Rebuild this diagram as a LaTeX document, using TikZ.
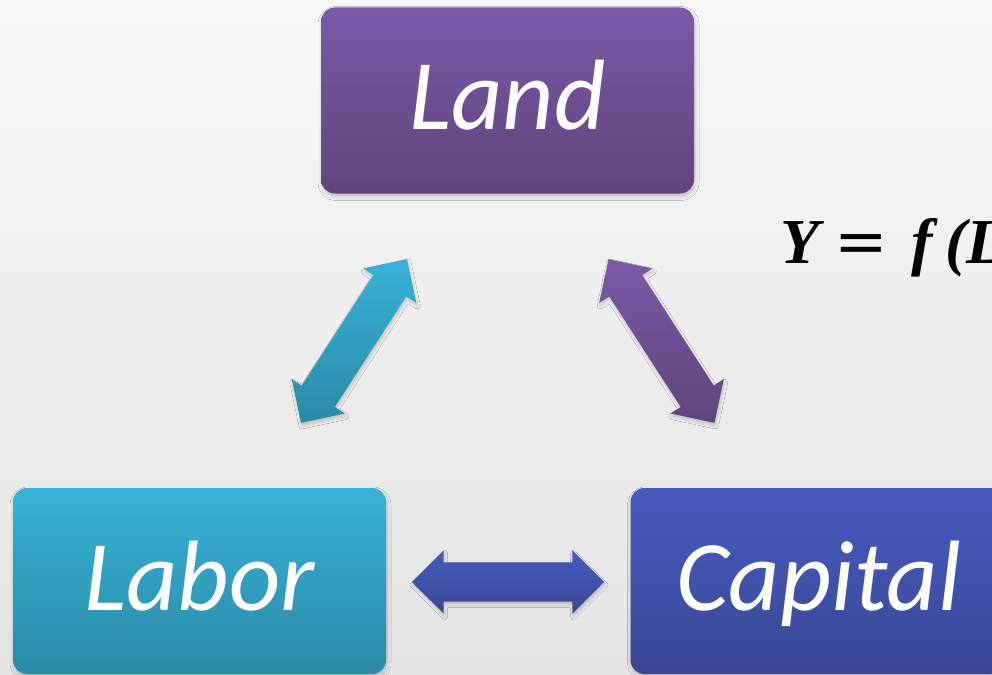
\documentclass[tikz,border=0pt]{standalone}
\usepackage{fontspec}
\setmainfont{Carlito}
\newfontfamily\formfont{Liberation Serif}
\newfontfamily\eqfont{DejaVu Serif}
\usetikzlibrary{shapes.arrows,shadows.blur}
\definecolor{bgtop}{HTML}{F8F8F8}
\definecolor{bgbot}{HTML}{E5E5E5}
\definecolor{landtop}{HTML}{7B59A7}
\definecolor{landbot}{HTML}{61447E}
\definecolor{labtop}{HTML}{37B3D7}
\definecolor{labbot}{HTML}{2A8AA6}
\definecolor{captop}{HTML}{485CC0}
\definecolor{capbot}{HTML}{384794}
\tikzset{
  x=1pt, y=1pt,
  boxnode/.style={rectangle, rounded corners=14pt, minimum width=373pt, minimum height=186pt,
    inner sep=0pt, blur shadow={shadow blur steps=6, shadow xshift=1pt, shadow yshift=-3pt, shadow opacity=22, shadow blur radius=4pt}},
  boxtext/.style={text=white, font=\fontsize{100}{100}\selectfont\itshape, inner sep=0pt, anchor=base},
  dblarrow/.style={double arrow, double arrow head extend=12pt, inner xsep=0pt, inner ysep=19.5pt,
    blur shadow={shadow blur steps=5, shadow xshift=1pt, shadow yshift=-3pt, shadow opacity=18, shadow blur radius=3pt}},
  formtext/.style={inner sep=0pt, anchor=base west, font=\formfont\fontsize{64}{64}\selectfont\bfseries\itshape},
}
\begin{document}
\begin{tikzpicture}
\fill[top color=bgtop, bottom color=bgbot] (0,0) rectangle (992,-674);
\useasboundingbox (0,0) rectangle (992,-674);
\node[boxnode, top color=landtop, bottom color=landbot] (land) at (507.5,-100.5) {};
\node[boxnode, top color=labtop, bottom color=labbot] (labor) at (199.5,-581) {};
\node[boxnode, top color=captop, bottom color=capbot] (capital) at (817,-581) {};
\node[boxtext] (landtext) at ([yshift=-29pt]land.center) {Land};
\node[boxtext] (labortext) at ([yshift=-29.5pt]labor.center) {Labor};
\node[boxtext] (capitaltext) at ([xshift=2pt,yshift=-29.5pt]capital.center) {Capital};
\node[dblarrow, minimum height=195pt, rotate=57.1, shading angle=-57.1,
  top color=labtop, bottom color=labbot] (arrLL) at (354,-341) {};
\node[dblarrow, minimum height=195pt, rotate=-57.1, shading angle=57.1,
  top color=landtop, bottom color=landbot] (arrLC) at (661.5,-341) {};
\node[dblarrow, minimum height=192pt, top color=captop, bottom color=capbot] (arrBC) at (508,-582) {};
\node[formtext] (yform) at (780,-263) {Y\hspace{15pt}{\eqfont\mdseries\upshape\fontsize{64}{64}\selectfont =}\hspace{24pt}f\kern12pt(L};
\end{tikzpicture}
\end{document}
